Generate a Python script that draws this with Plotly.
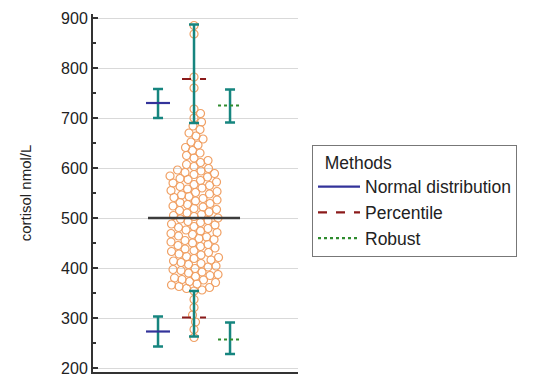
import numpy as np
import plotly.graph_objects as go

# ---------------- data ----------------
cortisol = [
    261, 277, 292, 306, 321, 337,
    354, 356, 359, 361, 363, 366, 368, 371, 373, 376, 377, 380, 383, 385,
    387, 390, 392, 395, 397, 399, 402, 404, 407, 409, 411, 414, 416, 419,
    421, 423, 426, 428, 431, 433, 435, 438, 440, 443, 445, 447, 450, 452,
    455, 457, 459, 462, 464, 467, 469, 471, 474, 476, 479, 481, 483, 486,
    488, 491, 493, 495, 498, 500, 503, 505, 507, 510, 512, 515, 517, 519,
    522, 524, 527, 529, 531, 534, 536, 539, 541, 543, 546, 548, 551, 553,
    555, 558, 560, 563, 565, 567, 570, 572, 575, 577, 579, 582, 584, 587,
    589, 591, 594, 596, 599,
    603, 607, 611, 615, 620, 625, 630, 635, 641, 646, 652, 658, 664, 670,
    677, 684, 692, 700, 709, 718,
    760, 782, 868, 885,
]
median_value = 500

methods = ["Normal distribution", "Percentile", "Robust"]
method_pos = [1, 2, 3]
upper_limit = [730, 778, 725]
upper_ci_low = [700, 690, 691]
upper_ci_high = [758, 887, 757]
lower_limit = [273, 301, 257]
lower_ci_low = [243, 263, 228]
lower_ci_high = [303, 354, 291]

method_colors = ["#33339a", "#8b1a1a", "#2e8b2e"]
method_dash = ["solid", "dash", "dot"]
ci_color = "#16857f"
point_color = "#f0a064"

# ---------------- layout geometry ----------------
W, H = 538, 377
ML, MR, MT, MB = 93, 240, 14, 5
plot_w = W - ML - MR
plot_h = H - MT - MB
x_range = [-0.806, 4.888]
y_range = [192, 908]
xpx = plot_w / (x_range[1] - x_range[0])
ypx = plot_h / (y_range[1] - y_range[0])


def beeswarm(vals, diam=7.6):
    vals = np.asarray(vals, dtype=float)
    order = np.argsort(vals)
    placed = []
    offs = np.zeros(len(vals))
    cands = [0.0]
    for k in range(1, 400):
        cands += [k * 0.5, -k * 0.5]
    for i in order:
        y = vals[i] * ypx
        near = [(px, py) for px, py in placed if abs(y - py) < diam]
        chosen = 0.0
        for c in cands:
            if all((c - px) ** 2 + (y - py) ** 2 >= diam ** 2 for px, py in near):
                chosen = c
                break
        placed.append((chosen, y))
        offs[i] = chosen / xpx
    return offs


xs = 2 + beeswarm(cortisol)

fig = go.Figure()

# data points
fig.add_trace(go.Scatter(
    x=xs, y=cortisol, mode="markers", showlegend=False, hoverinfo="y",
    marker=dict(symbol="circle-open", size=8, color=point_color,
                line=dict(width=1.2, color=point_color)),
))

# confidence intervals (error bars)
for lim, lo, hi in [(upper_limit, upper_ci_low, upper_ci_high),
                    (lower_limit, lower_ci_low, lower_ci_high)]:
    fig.add_trace(go.Scatter(
        x=method_pos, y=lim, mode="markers", showlegend=False,
        marker=dict(size=1, color="rgba(0,0,0,0)"),
        error_y=dict(type="data", symmetric=False,
                     array=[h - l for h, l in zip(hi, lim)],
                     arrayminus=[l - o for l, o in zip(lim, lo)],
                     color=ci_color, thickness=2.5, width=5),
    ))

# limit lines per method
half = 12 / xpx
for i, name in enumerate(methods):
    p = method_pos[i]
    fig.add_trace(go.Scatter(
        x=[p - half, p + half, None, p - half, p + half],
        y=[upper_limit[i], upper_limit[i], None, lower_limit[i], lower_limit[i]],
        mode="lines", name=name,
        line=dict(color=method_colors[i], width=2.2, dash=method_dash[i]),
    ))

# median line
fig.add_trace(go.Scatter(
    x=[2 - 46 / xpx, 2 + 46 / xpx], y=[median_value, median_value],
    mode="lines", showlegend=False,
    line=dict(color="#3c3c3c", width=2.5),
))

fig.update_layout(
    width=W, height=H,
    margin=dict(l=ML, r=MR, t=MT, b=MB, autoexpand=False),
    paper_bgcolor="white", plot_bgcolor="white",
    font=dict(family="Liberation Sans, Arial, sans-serif", size=16, color="#222"),
    legend=dict(
        title=dict(text="\u00a0\u00a0Methods", font=dict(size=17.5)),
        font=dict(size=17.5),
        x=(312 - ML) / plot_w, xanchor="left",
        y=(H - MB - 145) / plot_h, yanchor="top",
        bgcolor="white", bordercolor="#777", borderwidth=1,
        tracegroupgap=0, itemwidth=42,
    ),
    xaxis=dict(range=x_range, showgrid=False, zeroline=False,
               showticklabels=False, ticks="", showline=True,
               linecolor="#333", linewidth=2, automargin=False),
    yaxis=dict(range=y_range, tickvals=[200, 300, 400, 500, 600, 700, 800, 900],
               showgrid=True, gridcolor="#d9d9d9", gridwidth=1, zeroline=False,
               showline=True, linecolor="#333", linewidth=2, automargin=False,
               ticks="inside", ticklen=5, tickcolor="#333", tickwidth=1.5,
               minor=dict(dtick=50, tick0=0, ticks="inside", ticklen=3,
                          tickcolor="#333", showgrid=False),
               tickfont=dict(size=16),
               title=dict(text="cortisol nmol/L", font=dict(size=15), standoff=26)),
)

fig.write_html("out.html", config={"displayModeBar": False},
               post_script="document.body.style.margin='0';")
